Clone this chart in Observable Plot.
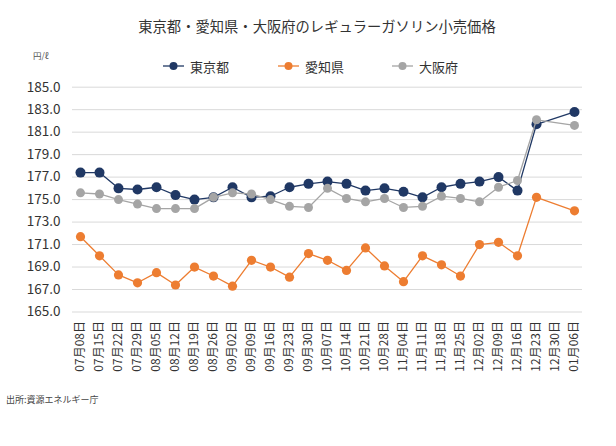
<!DOCTYPE html>
<html>
<head>
<meta charset="utf-8">
<script src="https://cdn.jsdelivr.net/npm/d3@7"></script>
<script src="https://cdn.jsdelivr.net/npm/@observablehq/plot@0.6"></script>
<style>
  html, body { margin: 0; padding: 0; background: #fff; }
  body { font-family: "Noto Sans CJK JP", "Noto Sans", sans-serif; color: #333; }
  #wrap { position: relative; width: 616px; height: 446px; overflow: hidden; }
  #chart { position: absolute; left: 0; top: 0; }
  .abs { position: absolute; white-space: nowrap; line-height: 1; }
  #title { left: 0; width: 616px; top: 19px; text-align: center; font-size: 14.3px; color: #333; padding-left: 18px; box-sizing: border-box; }
  #unit { left: 33px; top: 51px; font-size: 8.5px; color: #555; }
  #caption { left: 6px; top: 395px; font-size: 9px; color: #444; }
  .leg { position: absolute; top: 58px; height: 16px; display: flex; align-items: center; font-size: 13px; color: #333; }
  .leg svg { margin-right: 6px; }
</style>
</head>
<body>
<div id="wrap">
  <div id="chart"></div>
  <div id="title" class="abs"></div>
  <div id="unit" class="abs"></div>
  <div id="legend"></div>
  <div id="caption" class="abs"></div>
</div>
<script>
const titleText = "東京都・愛知県・大阪府のレギュラーガソリン小売価格";
const unitText = "円/ℓ";
const captionText = "出所:資源エネルギー庁";

const dates = ["07月08日","07月15日","07月22日","07月29日","08月05日","08月12日","08月19日","08月26日","09月02日","09月09日","09月16日","09月23日","09月30日","10月07日","10月14日","10月21日","10月28日","11月04日","11月11日","11月18日","11月25日","12月02日","12月09日","12月16日","12月23日","12月30日","01月06日"];

const seriesNames = ["東京都", "愛知県", "大阪府"];
const seriesColors = ["#203864", "#ED7D31", "#A5A5A5"];

const tokyo = [177.4,177.4,176.0,175.9,176.1,175.4,175.0,175.2,176.1,175.2,175.3,176.1,176.4,176.6,176.4,175.8,176.0,175.7,175.2,176.1,176.4,176.6,177.0,175.8,181.7,null,182.8];
const aichi = [171.7,170.0,168.3,167.6,168.5,167.4,169.0,168.2,167.3,169.6,169.0,168.1,170.2,169.6,168.7,170.7,169.1,167.7,170.0,169.2,168.2,171.0,171.2,170.0,175.2,null,174.0];
const osaka = [175.6,175.5,175.0,174.6,174.2,174.2,174.2,175.2,175.6,175.5,175.0,174.4,174.3,176.0,175.1,174.8,175.1,174.3,174.4,175.3,175.1,174.8,176.1,176.7,182.1,null,181.6];

const yTicks = [165,167,169,171,173,175,177,179,181,183,185];

const values = [tokyo, aichi, osaka];
const rows = [];
values.forEach((arr, s) => {
  arr.forEach((v, i) => {
    if (v != null) rows.push({date: dates[i], value: v, series: seriesNames[s]});
  });
});

const fmt = d => d.toFixed(1);
const dotR = [5, 4.6, 4.5];

const seriesMarks = seriesNames.flatMap((name, s) => {
  const data = rows.filter(r => r.series === name);
  return [
    Plot.line(data, {x: "date", y: "value", stroke: seriesColors[s], strokeWidth: 1.3}),
    Plot.dot(data, {x: "date", y: "value", fill: seriesColors[s], r: dotR[s], stroke: "none"})
  ];
});

const chart = Plot.plot({
  width: 616,
  height: 446,
  marginTop: 86.7,
  marginBottom: 134.5,
  marginLeft: 72,
  marginRight: 34,
  style: {fontFamily: '"Noto Sans CJK JP", "Noto Sans", sans-serif', color: "#333", background: "transparent"},
  x: {type: "point", domain: dates, padding: 0.1, label: null},
  y: {domain: [165, 185], label: null},
  marks: [
    Plot.gridY(yTicks, {stroke: "#d9d9d9", strokeOpacity: 1, strokeWidth: 1}),
    Plot.axisY({ticks: yTicks, tickFormat: fmt, tickSize: 0, tickPadding: 12, fontSize: 13.5, label: null}),
    Plot.axisX({tickSize: 0, tickRotate: -90, tickPadding: 9, fontSize: 12, label: null}),
    ...seriesMarks
  ]
});
document.getElementById("chart").appendChild(chart);

document.getElementById("title").textContent = titleText;
document.getElementById("unit").textContent = unitText;
document.getElementById("caption").textContent = captionText;

const legendX = [163, 278, 392];
const legend = document.getElementById("legend");
seriesNames.forEach((name, s) => {
  const div = document.createElement("div");
  div.className = "leg";
  div.style.left = legendX[s] + "px";
  const c = seriesColors[s];
  div.innerHTML = `<svg width="21" height="10"><line x1="0" y1="5" x2="21" y2="5" stroke="${c}" stroke-width="1.3"/><circle cx="10.5" cy="5" r="4" fill="${c}"/></svg><span></span>`;
  div.querySelector("span").textContent = name;
  legend.appendChild(div);
});
</script>
</body>
</html>
